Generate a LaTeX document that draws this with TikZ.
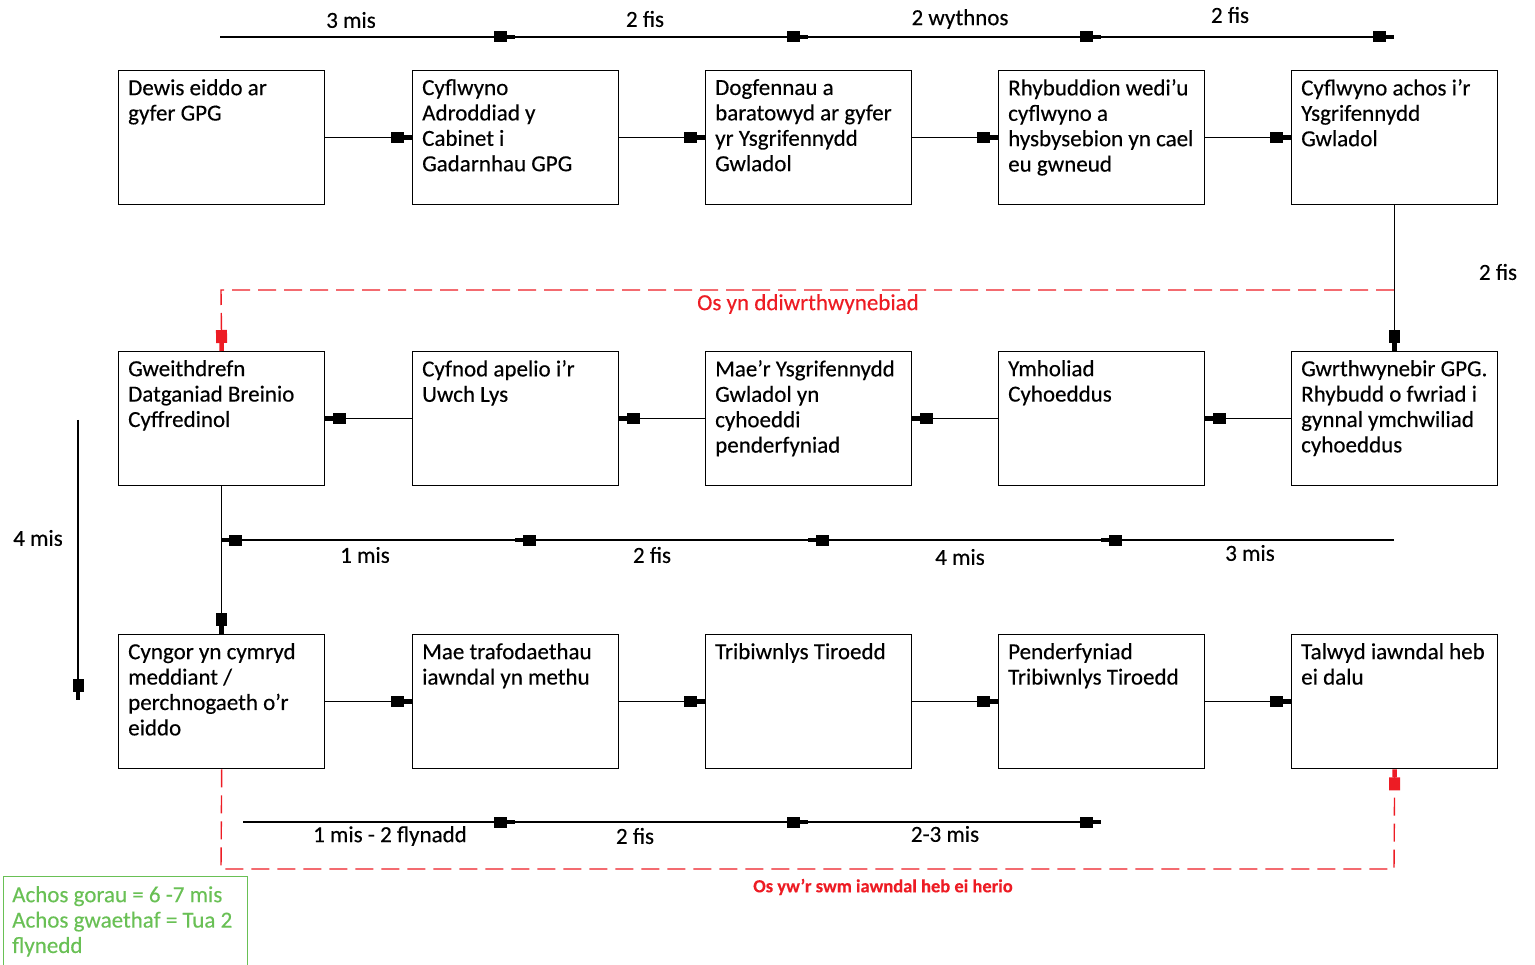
\documentclass[tikz,border=0pt]{standalone}
\usepackage{fontspec}
\setmainfont{Carlito}[FakeBold=0.3]
\usetikzlibrary{arrows.meta}
\definecolor{rd}{RGB}{237,28,36}
\definecolor{gr}{RGB}{105,192,85}
\begin{document}
\begin{tikzpicture}[x=1pt,y=-1pt,
 box/.style={draw, line width=1.4pt, minimum width=206pt, minimum height=134pt, inner sep=0pt, anchor=north west},
 txt/.style={anchor=north west, inner sep=0pt, align=left, font=\fontsize{23}{25.4}\selectfont},
 lbl/.style={font=\fontsize{23}{26}\selectfont, inner sep=0pt},
 blktip/.style={-{Rectangle[length=13pt,width=11pt,sep=0pt] Rectangle[length=8pt,width=4.5pt,sep=0pt]}},
 blk/.style={line width=1.4pt, blktip},
 rdash/.style={draw=rd, line width=1.4pt, dash pattern=on 18pt off 8pt},
]
\useasboundingbox (0,0) rectangle (1535,965);
% boxes
\foreach \n/\x/\y in {1/118/70,2/412/70,3/705/70,4/998/70,5/1291/70,
                      6/118/351,7/412/351,8/705/351,9/998/351,10/1291/351,
                      11/118/634,12/412/634,13/705/634,14/998/634,15/1291/634}
  \node[box] (b\n) at (\x,\y) {};
\node[txt] (x1) at ([xshift=10pt,yshift=-9pt]b1.north west) {Dewis eiddo ar\\gyfer GPG};
\node[txt] (x2) at ([xshift=10pt,yshift=-9pt]b2.north west) {Cyflwyno\\Adroddiad y\\Cabinet i\\Gadarnhau GPG};
\node[txt] (x3) at ([xshift=10pt,yshift=-9pt]b3.north west) {Dogfennau a\\baratowyd ar gyfer\\yr Ysgrifennydd\\Gwladol};
\node[txt] (x4) at ([xshift=10pt,yshift=-9pt]b4.north west) {Rhybuddion wedi'u\\cyflwyno a\\hysbysebion yn cael\\eu gwneud};
\node[txt] (x5) at ([xshift=10pt,yshift=-9pt]b5.north west) {Cyflwyno achos i'r\\Ysgrifennydd\\Gwladol};
\node[txt] (x6) at ([xshift=10pt,yshift=-9pt]b6.north west) {Gweithdrefn\\Datganiad Breinio\\Cyffredinol};
\node[txt] (x7) at ([xshift=10pt,yshift=-9pt]b7.north west) {Cyfnod apelio i'r\\Uwch Lys};
\node[txt] (x8) at ([xshift=10pt,yshift=-9pt]b8.north west) {Mae'r Ysgrifennydd\\Gwladol yn\\cyhoeddi\\penderfyniad};
\node[txt] (x9) at ([xshift=10pt,yshift=-9pt]b9.north west) {Ymholiad\\Cyhoeddus};
\node[txt] (x10) at ([xshift=10pt,yshift=-9pt]b10.north west) {Gwrthwynebir GPG.\\Rhybudd o fwriad i\\gynnal ymchwiliad\\cyhoeddus};
\node[txt] (x11) at ([xshift=10pt,yshift=-9pt]b11.north west) {Cyngor yn cymryd\\meddiant /\\perchnogaeth o'r\\eiddo};
\node[txt] (x12) at ([xshift=10pt,yshift=-9pt]b12.north west) {Mae trafodaethau\\iawndal yn methu};
\node[txt] (x13) at ([xshift=10pt,yshift=-9pt]b13.north west) {Tribiwnlys Tiroedd};
\node[txt] (x14) at ([xshift=10pt,yshift=-9pt]b14.north west) {Penderfyniad\\Tribiwnlys Tiroedd};
\node[txt] (x15) at ([xshift=10pt,yshift=-9pt]b15.north west) {Talwyd iawndal heb\\ei dalu};
% box connectors
\draw[blk] (b1) -- (b2);
\draw[blk] (b2) -- (b3);
\draw[blk] (b3) -- (b4);
\draw[blk] (b4) -- (b5);
\draw[blk] (b5) -- (b10);
\draw[blk] (b10) -- (b9);
\draw[blk] (b9) -- (b8);
\draw[blk] (b8) -- (b7);
\draw[blk] (b7) -- (b6);
\draw[blk] (b6) -- (b11);
\draw[blk] (b11) -- (b12);
\draw[blk] (b12) -- (b13);
\draw[blk] (b13) -- (b14);
\draw[blk] (b14) -- (b15);
% top timeline
\coordinate (t0) at (220,37);
\coordinate (t1) at (515,37);
\coordinate (t2) at (808,37);
\coordinate (t3) at (1101,37);
\coordinate (t4) at (1394,37);
\draw[blk] (t0) -- (t1);
\draw[blk] (t1) -- (t2);
\draw[blk] (t2) -- (t3);
\draw[blk] (t3) -- (t4);
\node[lbl] (k1) at (351,20) {3 mis};
\node[lbl] (k2) at (645,19) {2 fis};
\node[lbl] (k3) at (960,19) {2 wythnos};
\node[lbl] (k4) at (1230,15) {2 fis};
\node[lbl] (k5) at (1498,272) {2 fis};
% middle timeline
\coordinate (m0) at (1394,540);
\coordinate (m1) at (1101,540);
\coordinate (m2) at (808,540);
\coordinate (m3) at (515,540);
\coordinate (m4) at (221,540);
\draw[blk] (m0) -- (m1);
\draw[blk] (m1) -- (m2);
\draw[blk] (m2) -- (m3);
\draw[blk] (m3) -- (m4);
\node[lbl] (k6) at (365,555) {1 mis};
\node[lbl] (k7) at (652,555) {2 fis};
\node[lbl] (k8) at (960,557) {4 mis};
\node[lbl] (k9) at (1250,553) {3 mis};
% left arrow
\coordinate (l0) at (78,420);
\coordinate (l1) at (78,700);
\draw[blk] (l0) -- (l1);
\node[lbl] (k10) at (38,538) {4 mis};
% bottom timeline
\coordinate (u0) at (243,822);
\coordinate (u1) at (515,822);
\coordinate (u2) at (808,822);
\coordinate (u3) at (1101,822);
\draw[blk] (u0) -- (u1);
\draw[blk] (u1) -- (u2);
\draw[blk] (u2) -- (u3);
\node[lbl] (k11) at (390,836) {1 mis - 2 flynadd};
\node[lbl] (k12) at (635,836) {2 fis};
\node[lbl] (k13) at (945,834) {2-3 mis};
% red dashed paths
\coordinate (r1) at (1394,290);
\coordinate (r2) at (221,290);
\draw[rdash, blktip] (r1) -- (r2) -- (b6.north);
\node[lbl, text=rd] (k14) at (808,304) {Os yn ddiwrthwynebiad};
\coordinate (r3) at (221,869);
\coordinate (r4) at (1394,869);
\draw[rdash, blktip] (b11.south) -- (r3) -- (r4) -- (b15.south);
\node[lbl, text=rd, font=\fontsize{18.5}{22}\selectfont\bfseries] (k15) at (883,887) {Os yw'r swm iawndal heb ei herio};
% green note
\node[draw=gr, line width=1.4pt, anchor=north west, minimum width=244pt, minimum height=92pt, inner sep=0pt] (g) at (3,876) {};
\node[txt, text=gr] (gt) at (12,886) {Achos gorau = 6 -7 mis\\Achos gwaethaf = Tua 2\\flynedd};
\end{tikzpicture}
\end{document}
